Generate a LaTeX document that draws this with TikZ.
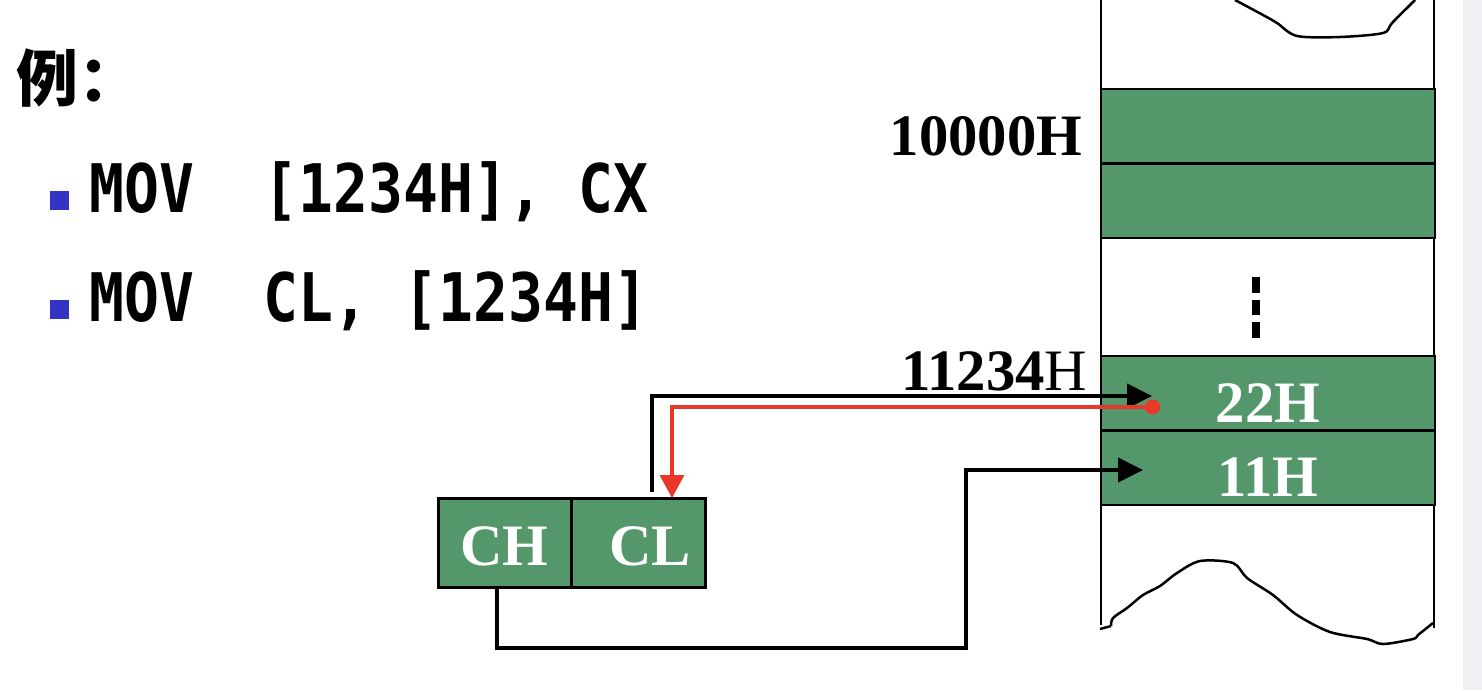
\documentclass[tikz,border=0pt]{standalone}
\usepackage{fontspec}
\setmainfont{Liberation Serif}
\newfontfamily\cjk{Noto Sans CJK SC}
\newfontfamily\monof[FakeStretch=0.866]{DejaVu Sans Mono}
\usetikzlibrary{positioning,arrows.meta}

\definecolor{verdecelda}{RGB}{83,151,106}
\definecolor{azulvineta}{RGB}{51,51,196}
\definecolor{rojolectura}{RGB}{232,56,40}
\definecolor{grisfranja}{RGB}{240,241,244}

\newcommand{\numf}{\fontsize{16.7pt}{20pt}\selectfont\bfseries}
\newcommand{\codf}{\monof\fontsize{19.06pt}{22pt}\selectfont\bfseries}

\begin{document}
\begin{tikzpicture}[
    celda/.style={draw, line width=0.025cm, fill=verdecelda, outer sep=0pt, inner sep=0pt,
        minimum width=3.34cm, minimum height=0.745cm, text=white, font=\numf,
        text height=0.58cm, text depth=0cm},
    registro/.style={draw, line width=0.03cm, fill=verdecelda, outer sep=0pt, inner sep=0pt,
        minimum height=0.89cm, text=white, font=\numf, text height=0.45cm, text depth=0cm},
    vineta/.style={fill=azulvineta, minimum size=0.19cm, inner sep=0pt},
    flecha/.style={line width=0.04cm, -{Triangle[length=0.25cm,width=0.24cm]}},
    lectura/.style={line width=0.033cm, draw=rojolectura,
        {Circle[length=0.15cm,fill=rojolectura]}-{Triangle[length=0.23cm,width=0.24cm,fill=rojolectura]}},
    linea/.style={line width=0.025cm}
]
    \useasboundingbox (0,0) rectangle (14.82,-6.90);

    % Franja derecha
    \fill[grisfranja] (14.63,0) rectangle (14.82,-6.90);

    % Texto
    \node[anchor=base west, inner sep=0pt, font=\cjk\fontsize{17.6pt}{20pt}\selectfont\bfseries] (ejemplo) at (0.16,-1.01) {例：};
    \node[vineta] (v1) at (0.595,-2.00) {};
    \node[vineta] (v2) at (0.595,-3.095) {};
    \node[anchor=base west, inner sep=0pt, font=\codf] (ins1) at (0.885,-2.12) {MOV\ \ [1234H],\ CX};
    \node[anchor=base west, inner sep=0pt, font=\codf] (ins2) at (0.885,-3.21) {MOV\ \ CL,\ [1234H]};

    % Memoria
    \draw[linea] (11.01,0) -- (11.01,-6.25);
    \draw[linea] (14.34,0) -- (14.34,-6.28);
    \draw[linea] plot[smooth] coordinates {(12.35,0) (12.63,-0.15) (12.77,-0.23) (12.97,-0.36)
        (13.40,-0.37) (13.83,-0.33) (13.92,-0.23) (14.15,0)};
    \draw[linea] (11.00,-6.29) -- (11.11,-6.26);
    \draw[linea] plot[smooth] coordinates {(11.11,-6.26) (11.13,-6.18) (11.27,-6.08) (11.43,-5.95)
        (11.60,-5.86) (11.77,-5.73) (12.00,-5.61) (12.33,-5.63) (12.47,-5.78) (12.73,-5.95)
        (12.97,-6.15) (13.30,-6.32) (13.67,-6.39) (13.83,-6.44) (14.13,-6.39) (14.18,-6.35) (14.33,-6.23)};

    \node[celda] (m0) at (12.68,-1.26) {};
    \node[celda, below=0pt of m0] (m1) {};
    \node[celda] (m22) at (12.68,-3.93) {22H};
    \node[celda, below=0pt of m22] (m11) {11H};

    % Puntos
    \draw[line width=0.08cm, dash pattern=on 0.155cm off 0.07cm] (12.56,-2.77) -- (12.56,-3.375);

    % Direcciones
    \node[anchor=base east, inner sep=0pt, font=\numf] (dir0) at (10.83,-1.55) {10000H};
    \node[anchor=base east, inner sep=0pt, font=\numf] (dir1) at (10.88,-3.90) {11234{\mdseries H}};

    % Registro CX
    \node[registro, minimum width=1.33cm] (ch) at (5.045,-5.425) {CH};
    \node[registro, minimum width=1.34cm, right=0pt of ch] (cl) {\hspace*{0.24cm}CL};

    % Conexiones
    \coordinate (in22) at (11.52,-3.96);
    \coordinate (out22) at (11.60,-4.07);
    \coordinate (in11) at (11.43,-4.70);
    \draw[flecha] ([xshift=0.14cm, yshift=0.06cm]cl.north) |- (in22);
    \draw[flecha] ([xshift=-0.075cm]ch.south) -- ++(0,-0.61) -| ([xshift=-1.77cm]in11) -- (in11);
    \draw[lectura] (out22) -| ([xshift=0.34cm]cl.north);
\end{tikzpicture}
\end{document}
